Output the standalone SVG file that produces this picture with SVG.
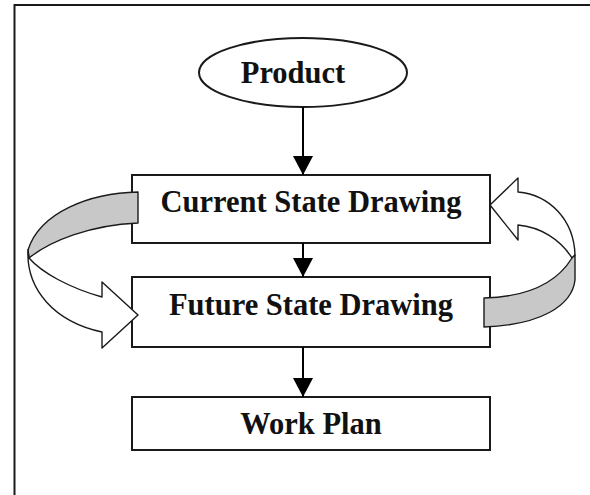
<svg xmlns="http://www.w3.org/2000/svg" width="590" height="495" viewBox="0 0 590 495">
<defs>
<style>
.box{fill:#fff;stroke:#1a1a1a;stroke-width:2}
.lbl{font-family:"Liberation Serif","Times New Roman",serif;font-weight:bold;font-size:30.5px;fill:#111;text-anchor:middle}
.conn{stroke:#000;stroke-width:2;fill:none}
.rib{stroke:#1a1a1a;stroke-width:1.4;stroke-linejoin:round}
.back{fill:#c8c8c8}
.front{fill:#fff}
</style>
<marker id="ah" markerUnits="userSpaceOnUse" markerWidth="20" markerHeight="20" refX="19" refY="10" orient="auto">
<path d="M0,0 L19,10 L0,20 Z" fill="#000"/>
</marker>
</defs>
<rect x="0" y="0" width="590" height="495" fill="#fff"/>
<rect x="14.5" y="5" width="600" height="520" fill="none" stroke="#1a1a1a" stroke-width="2"/>

<g id="product">
<ellipse cx="303" cy="72.5" rx="104" ry="34.5" class="box" stroke-width="1.6"/>
<text x="293" y="83" class="lbl">Product</text>
</g>
<g id="current">
<rect x="132" y="175" width="358" height="68" class="box"/>
<text x="311" y="212" class="lbl">Current State Drawing</text>
</g>
<g id="future">
<rect x="132" y="277" width="358" height="70" class="box"/>
<text x="311" y="315" class="lbl">Future State Drawing</text>
</g>
<g id="workplan">
<rect x="132" y="397" width="358" height="53" class="box"/>
<text x="311" y="434" class="lbl">Work Plan</text>
</g>

<g id="connectors">
<line x1="303" y1="107" x2="303" y2="175" class="conn" marker-end="url(#ah)"/>
<line x1="303" y1="243" x2="303" y2="277" class="conn" marker-end="url(#ah)"/>
<line x1="303" y1="347" x2="303" y2="397" class="conn" marker-end="url(#ah)"/>
</g>

<g id="loop-left">
<path class="rib back" d="M138,192 C90,193 40,212 28,250 L29,258 C50,241 90,225 138,223 Z"/>
<path class="rib front" d="M28,250 C26,290 55,322 102,332 L102,348 L138,315 L102,282 L102,297 C70,288 42,273 29,258 Z"/>
</g>
<g id="loop-right">
<path class="rib front" d="M518,192 C550,195 574,220 575,255 L572,258 C560,239 540,227 518,225 L518,240 L490,205 L518,178 Z"/>
<path class="rib back" d="M575,255 L575,280 C572,306 540,325 484,327 L484,298 C525,297 556,284 572,258 Z"/>
</g>
</svg>
